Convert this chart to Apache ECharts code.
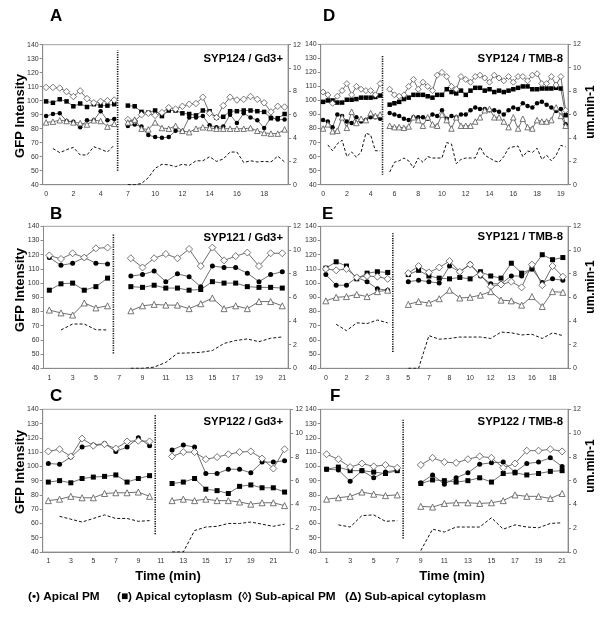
<!DOCTYPE html>
<html><head><meta charset="utf-8">
<script src="https://cdn.jsdelivr.net/npm/echarts@6/dist/echarts.min.js"></script>
<style>html,body{margin:0;padding:0;background:#fff}#c{width:600px;height:631px}</style>
</head><body><div id="c"></div>
<script>
// ---------- tick labels (time, min) ----------
const ticksA = ['0','2','4','7','10','12','14','16','18'];
const ticksD = ['0','2','4','6','8','10','12','14','16','18','19'];
const ticksB = ['1','3','5','7','9','11','13','15','17','19','21'];
const ticksE = ['0','2','2','3','5','7','8','10','12','13','16','18'];
const ticksC = ['1','3','5','7','9','11','13','15','17','19','21'];
const ticksF = ['1','3','5','7','9','11','13','15','17','19','21'];

// ---------- Panel A: SYP124 / Gd3+ ----------
const A_pm = [89,90.5,91,85.5,85,81,86,86,92.5,86,87,null,82,83,81.5,75.5,74,73.5,74,78.5,78,88,88,89,82.5,81,81.5,90,84,91,88,86,80.5,88,86.5,86.5];
const A_cyt = [99.5,98.5,101,99.5,96,98,95.5,97.5,96.5,96.5,97.5,null,96.5,96,92,91.5,93,89,93,93,91,90.5,89.5,93,92.5,88,88.5,92.5,92.5,93,93,92.5,92,87.5,87.5,90.5];
const A_sub = [109.5,109.5,109,106.5,103,107,101.5,98.5,99.5,100,100.5,null,86.5,85.5,90,91,89.5,91.5,95,94,96,97.5,98,102.5,91,88,96.5,102.5,100.5,101,103,101,98.5,92,96,95.5];
const A_subcyt = [84.5,85,86,85.5,84.5,84,83,86,85.5,81.5,83.5,null,84.5,86.5,80,79.5,84.5,80.5,80,82,78.5,77.5,80,81,80.5,80,80,80,80,80,80.5,78.5,77,76.5,76.5,79.5];
const A_rate = [null,3.1,2.75,3.0,3.2,2.55,2.55,3.25,3.05,2.8,3.4,null,0,0,0.1,0.6,1.4,1.75,1.7,1.55,1.75,1.65,2.05,2.05,2.4,2.0,2.2,2.8,2.8,1.9,2.05,1.95,2.0,1.95,2.45,1.95];

// ---------- Panel D: SYP124 / TMB-8 ----------
const D_pm = [86,85,81,90,89,85,84,88,85,86,88,88,87,null,91,90,89,87,86,88,88,88,87,90,89,93,87,89,88,90,90,93,95,94,94,93,93,92,90,93,95,94,98,96,95,98,99,97,95,92.5,94,83];
const D_cyt = [99,100,100,98.5,98.5,100.5,100.5,101,102,102,102,102.5,103.5,null,97,98,99,101,102,104,104,104,103,102,104,104,108,106,105,107,104,107,109,109,107,108,106,107,106,107,108,109,110,110,108,108,108.5,108.5,108.5,109,108.5,89.5];
const D_sub = [106,104,98,103,107,112,104,110,108,107,107,104,112,null,108,104,103,104,110,115,108,113,110,107,118,120,117,110,108,117,115,113,117,118,116,113,118,116,114,117,113,117,117,114,118,119,112,112,117,111,117,93];
const D_subcyt = [80,83,78,78.5,88,80.5,92,84,87,86,91,89,90,null,82,81,81,80.5,81.5,88,86,82,88,83,82,90,86,80,88,82,82,82,85,88,93,94,88,88,85,81,88,80,87,81,80,86,85,85,86,95,89,82];
const D_rate = [null,3.4,2.9,3.5,3.8,2.4,2.8,2.35,2.8,4.4,4.25,2.9,2.9,null,1.08,1.92,2.04,2.28,2.04,1.44,2.28,1.92,2.4,2.28,2.28,2.28,3.6,3.48,1.8,2.16,2.28,2.28,2.28,3.24,2.52,2.28,2.04,1.92,2.4,3.12,3.24,3.3,2.4,2.88,2.76,3.12,2.16,2.52,2.04,2.52,3.36,3.24];

// ---------- Panel B: SYP121 / Gd3+ ----------
const B_pm = [118,112.5,114,118,114,113.5,null,105,106,108.5,101,106.5,104.5,97.5,112,111,111,107,101,106,108];
const B_cyt = [95,99.5,100,95,97.5,103.5,null,97.5,97,98.5,96.5,96.5,95,95.5,101,100,100,97.5,97,97,96.5];
const B_sub = [119.5,117,121,118,124.5,125,null,117.5,111,117.5,120.5,117.5,124,112,125,116,119,121.5,112,121,121];
const B_subcyt = [81,79,77.5,86,82.5,84,null,80.5,84,85,84.5,84.5,82,85.5,89.5,82,84,82,87,87,84];
const B_rate = [null,3.24,3.74,3.74,3.26,3.24,null,0,0,0.1,0.5,1.27,1.3,1.35,1.5,2.1,2.35,2.48,2.25,2.54,2.65];

// ---------- Panel E: SYP121 / TMB-8 ----------
const E_pm = [106,98.5,98.5,104,101,96,95,null,101,102,101,100,112,108,113.5,105,99.5,99.5,105,105,110,100.5,103,102];
const E_cyt = [110.5,115,112,103,107,108,107.5,null,106,109,105,103.5,103,104,103,108,105,103.5,114,107,110,120,116.5,118];
const E_sub = [110,109,110,104,105,104.5,103,null,107,112,107.5,111,115.5,108,113,106,97.5,99,101,97,113,98.5,112,104.5];
const E_subcyt = [87.5,90,90.5,92,90.5,94,95,null,85,87,86,89,95,89.5,90,91.5,94,88,87.5,84.5,90.5,83.5,94,93.5];
const E_rate = [null,3.72,3.18,3.84,3.78,4.08,3.84,null,0,0,2.76,2.46,2.52,2.64,2.64,2.64,2.52,3.06,3.0,2.82,2.88,2.52,3.0,2.76];

// ---------- Panel C: SYP122 / Gd3+ ----------
const C_pm = [102,101.5,106.5,113.5,115,116,110.5,113.5,120,114.5,null,111.5,115,113.5,95,95,98,98,95.5,103,103,104];
const C_cyt = [89,90,88.5,91.5,92.5,93,94,89,91.5,93.5,null,88,89,91.5,84,83,81,86,87,85,85,82];
const C_sub = [110.5,112,107,119.5,114.5,115.5,112.5,117.5,118,117.5,null,107,110,110,105,106.5,108.5,110,110.5,105.5,98.5,112];
const C_subcyt = [76,77,79,78,78,81,81.5,81.5,82,79,null,76,77,76,77,76,76,75,73.5,74.5,74.5,72.5];
const C_rate = [null,3.0,2.76,2.52,2.82,3.12,2.82,2.82,2.58,2.64,null,0,0,1.8,2.1,2.16,2.4,2.4,2.52,2.34,2.16,2.34];

// ---------- Panel F: SYP122 / TMB-8 ----------
const F_pm = [98,97.5,89.5,97,92,96,97.5,null,88.5,94,87.5,92,95.5,101.5,102.5,103,96,102,103,106,100];
const F_cyt = [98,99.5,97,97,96,95,97,null,88,90.5,90,89,90,92,89,95,95.5,94,95,96.5,97];
const F_sub = [108.5,105,99.5,102,100,101,99,null,101,106,103,102.5,105,107,106,99,102,111,111,112,110.5];
const F_subcyt = [77,78,79,82,80.5,79.5,80,null,72,71.5,74,74.5,74.5,74,74.5,76,80,79,79,77.5,81];
const F_rate = [null,2.28,2.1,3.06,3.12,2.58,2.64,null,0.12,1.92,1.68,2.1,2.1,2.1,2.88,1.92,2.28,2.1,2.04,2.4,2.46];

// treatment-start separators (category boundary) and their vertical extent
const sepA = [11, 50, 136], sepD = [13, 47, 132], sepB = [6, 50.5, 134.5];
const sepE = [7, 51.5, 135.5], sepC = [10, 52.5, 136], sepF = [7, 49.5, 133];

const titles = ['SYP124 / Gd3+','SYP124 / TMB-8','SYP121 / Gd3+','SYP121 / TMB-8','SYP122 / Gd3+','SYP122 / TMB-8'];

const FONT = '"Liberation Sans", Arial, Helvetica, sans-serif';
const panels = [
  {g:[42.7,44.7,245.3,140], step:4, tick:2, ticks:ticksA, d:[A_pm,A_cyt,A_sub,A_subcyt,A_rate], sep:sepA, title:titles[0], tr:317, tt:53, sz:[4.5,4.5,6.5,5.5]},
  {g:[320.7,44.3,247.3,140.4], step:5, tick:5, ticks:ticksD, d:[D_pm,D_cyt,D_sub,D_subcyt,D_rate], sep:sepD, title:titles[1], tr:37, tt:53, sz:[4.5,4.5,6,5.5]},
  {g:[43.5,226.3,244.6,142], step:2, tick:2, ticks:ticksB, d:[B_pm,B_cyt,B_sub,B_subcyt,B_rate], sep:sepB, title:titles[2], tr:317, tt:232.5, sz:[5,5,7,6]},
  {g:[320.7,226.3,247.3,142], step:2, tick:2, ticks:ticksE, d:[E_pm,E_cyt,E_sub,E_subcyt,E_rate], sep:sepE, title:titles[3], tr:37, tt:231.5, sz:[5,5,7,6]},
  {g:[42.7,409.3,247.5,142.7], step:2, tick:2, ticks:ticksC, d:[C_pm,C_cyt,C_sub,C_subcyt,C_rate], sep:sepC, title:titles[4], tr:317, tt:416.5, sz:[5,5,7,6]},
  {g:[320.7,409.3,247.3,142.7], step:2, tick:2, ticks:ticksF, d:[F_pm,F_cyt,F_sub,F_subcyt,F_rate], sep:sepF, title:titles[5], tr:37, tt:416.5, sz:[5,5,7,6]}
];

const axisGrey = '#8a8a8a';
const labelStyle = {fontSize:7, color:'#333', fontFamily:FONT};
const option = {animation:false, backgroundColor:'#fff', grid:[], xAxis:[], yAxis:[], series:[], title:[], graphic:[]};

panels.forEach((p, k) => {
  const n = p.d[0].length;
  option.grid.push({left:p.g[0], top:p.g[1], width:p.g[2], height:p.g[3], show:true, borderColor:'#a0a0a0', borderWidth:1});
  const cats = p.d[0].map((_, i) => String(i));
  option.xAxis.push({type:'category', gridIndex:k, data:cats, boundaryGap:true,
    axisLine:{lineStyle:{color:axisGrey}},
    axisTick:{interval:p.tick-1, length:3, lineStyle:{color:axisGrey}},
    axisLabel:Object.assign({interval:p.step-1, margin:6, formatter:(v,i)=>{const t=p.ticks[i/p.step]; return t===undefined?'':t;}}, labelStyle),
    splitLine:{show:false}});
  option.xAxis.push({type:'value', gridIndex:k, min:0, max:n, show:false});
  option.yAxis.push({type:'value', gridIndex:k, min:40, max:140, interval:10,
    axisLine:{show:true, lineStyle:{color:axisGrey}}, axisTick:{show:true, length:3, lineStyle:{color:axisGrey}},
    axisLabel:Object.assign({margin:4}, labelStyle), splitLine:{show:false}});
  option.yAxis.push({type:'value', gridIndex:k, min:0, max:12, interval:2, position:'right',
    axisLine:{show:true, lineStyle:{color:axisGrey}}, axisTick:{show:true, length:3, lineStyle:{color:axisGrey}},
    axisLabel:Object.assign({margin:5}, labelStyle), splitLine:{show:false}});
  const xi = 2*k, yi = 2*k;
  const lineSt = {color:'#4a4a4a', width:0.8};
  const syms = ['circle','rect','diamond','triangle'];
  const fills = ['#000','#000','#fff','#fff'];
  for (let s = 0; s < 4; s++) {
    option.series.push({type:'line', xAxisIndex:xi, yAxisIndex:yi, data:p.d[s], symbol:syms[s], symbolSize:p.sz[s],
      showSymbol:true, showAllSymbol:true, connectNulls:false, lineStyle:lineSt,
      itemStyle:{color:fills[s], borderColor: s<2 ? '#000' : '#555', borderWidth: s<2 ? 0 : 0.8}, z:3+s});
  }
  option.series.push({type:'line', xAxisIndex:xi, yAxisIndex:yi+1, data:p.d[4], symbol:'none', connectNulls:false,
    lineStyle:{color:'#111', width:1, type:[3,2]}, z:2});
  option.series.push({type:'line', xAxisIndex:xi+1, yAxisIndex:yi, data:[[p.sep[0], p.sep[1]],[p.sep[0], p.sep[2]]], symbol:'none',
    lineStyle:{color:'#111', width:1.6, type:[1.2,1.2]}, z:2});
  option.title.push({text:p.title, right:p.tr, top:p.tt, padding:0,
    textStyle:{fontSize:11.3, fontWeight:'bold', color:'#000', fontFamily:FONT}});
});

const g = option.graphic;
const letters = [['A',50,8],['D',323,8],['B',50,206],['E',322,206],['C',50,388],['F',330,388]];
letters.forEach(l => g.push({type:'text', left:l[1], top:l[2], style:{text:l[0], font:'bold 17px '+FONT, fill:'#000'}}));
[[20,116],[20,290],[20,472]].forEach(c => g.push({type:'text', x:c[0], y:c[1], rotation:Math.PI/2,
  style:{text:'GFP Intensity', font:'bold 13px '+FONT, fill:'#000', align:'center', verticalAlign:'middle'}}));
[[591,112],[591,287],[591,466]].forEach(c => g.push({type:'text', x:c[0], y:c[1], rotation:Math.PI/2,
  style:{text:'um.min-1', font:'bold 12px '+FONT, fill:'#000', align:'center', verticalAlign:'middle'}}));
[[168,576],[452,576]].forEach(c => g.push({type:'text', x:c[0], y:c[1],
  style:{text:'Time (min)', font:'bold 13px '+FONT, fill:'#000', align:'center', verticalAlign:'middle'}}));
const legendItems = [['(\u2022) Apical PM',28],['(\u25A0) Apical cytoplasm',117],['(\u25CA) Sub-apical PM',238],['(\u0394) Sub-apical cytoplasm',345]];
legendItems.forEach(it => g.push({type:'text', x:it[1], y:597,
  style:{text:it[0], font:'bold 11.8px '+FONT, fill:'#000', align:'left', verticalAlign:'middle'}}));

const chart = echarts.init(document.getElementById('c'), null, {renderer:'canvas'});
chart.setOption(option);
</script></body></html>
